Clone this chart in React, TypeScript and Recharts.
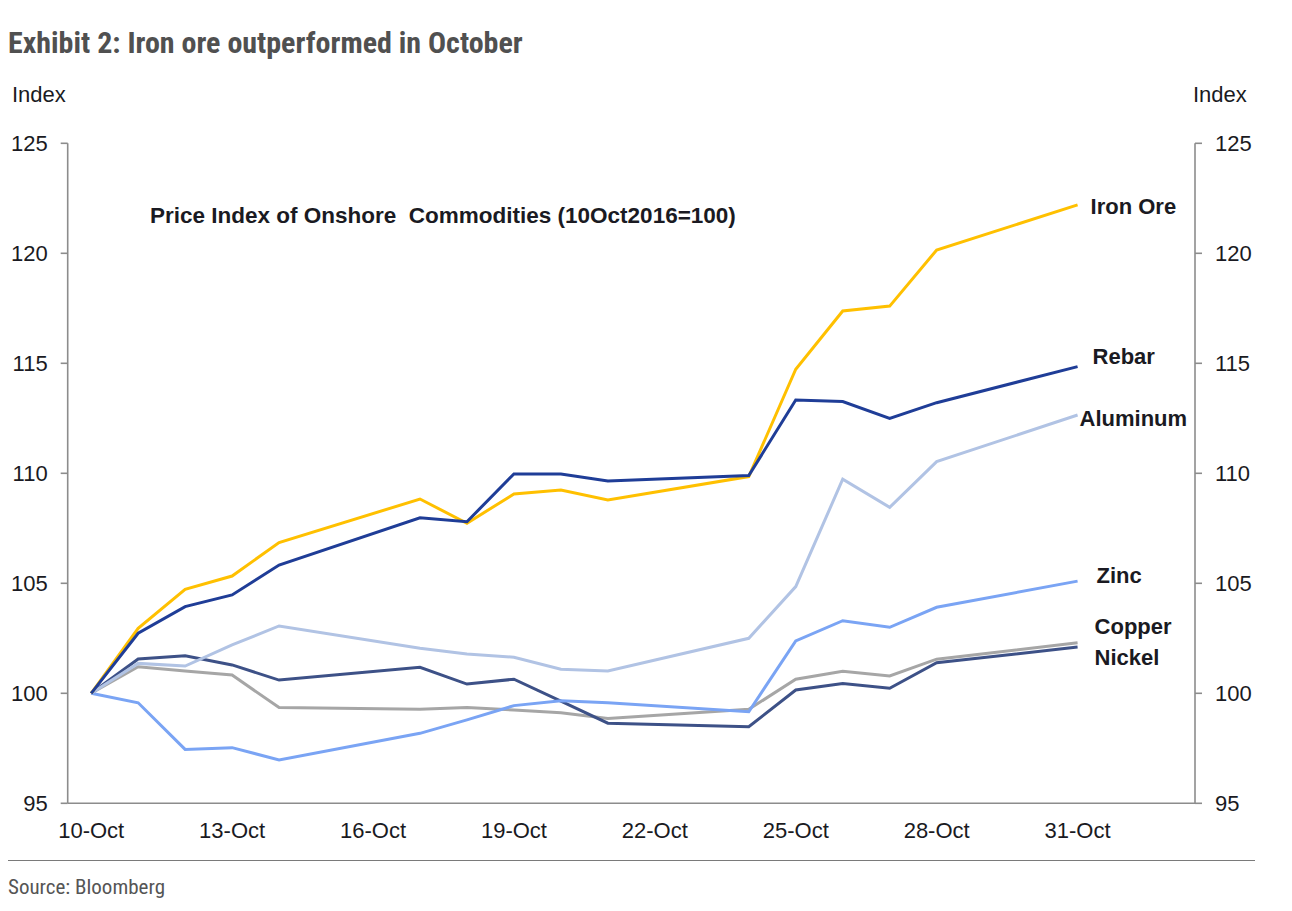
import React from 'react';
import { LineChart, Line, XAxis, YAxis, LabelList } from 'recharts';

// ---- data (October 2016, index 10-Oct = 100) ----
const days = [10, 11, 12, 13, 14, 17, 18, 19, 20, 21, 24, 25, 26, 27, 28, 31];
const ironOre = [100, 102.95, 104.73, 105.33, 106.85, 108.83, 107.73, 109.06, 109.24, 108.79, 109.85, 114.73, 117.38, 117.6, 120.15, 122.2];
const rebar = [100, 102.73, 103.94, 104.47, 105.83, 107.98, 107.8, 109.97, 109.97, 109.65, 109.9, 113.33, 113.26, 112.5, 113.21, 114.85];
const aluminum = [100, 101.36, 101.24, 102.2, 103.06, 102.05, 101.79, 101.64, 101.09, 101.01, 102.5, 104.85, 109.73, 108.45, 110.53, 112.65];
const zinc = [100, 99.57, 97.45, 97.53, 96.97, 98.18, 98.79, 99.44, 99.66, 99.57, 99.16, 102.38, 103.3, 103.0, 103.91, 105.1];
const copper = [100, 101.21, 101.01, 100.83, 99.35, 99.27, 99.36, 99.24, 99.12, 98.86, 99.27, 100.64, 101.0, 100.79, 101.55, 102.3];
const nickel = [100, 101.56, 101.71, 101.29, 100.6, 101.18, 100.42, 100.64, 99.64, 98.64, 98.48, 100.15, 100.45, 100.23, 101.39, 102.1];

const labelDays = [10, 13, 16, 19, 22, 25, 28, 31];
const boundaryTicks = [9.5, 12.5, 15.5, 18.5, 21.5, 24.5, 27.5, 30.5, 33.5];
const yTicks = [95, 100, 105, 110, 115, 120, 125];

const rows = days.map((d, i) => ({
  day: d,
  ironOre: ironOre[i],
  rebar: rebar[i],
  aluminum: aluminum[i],
  zinc: zinc[i],
  copper: copper[i],
  nickel: nickel[i],
}));

const SANS = '"Liberation Sans", Arial, Helvetica, sans-serif';
const NARROW = '"Liberation Sans Narrow", "Arial Narrow", "Roboto Condensed", "Liberation Sans", sans-serif';
const AXIS = '#8c8c8c';
const TXT = '#1a1a22';

const series = [
  { key: 'copper', name: 'Copper', color: '#a6a6a6', dx: 17, dy: -17 },
  { key: 'nickel', name: 'Nickel', color: '#3d5187', dx: 17, dy: 10 },
  { key: 'zinc', name: 'Zinc', color: '#7aa4f4', dx: 19, dy: -6 },
  { key: 'aluminum', name: 'Aluminum', color: '#b1c3e4', dx: 2, dy: 3 },
  { key: 'ironOre', name: 'Iron Ore', color: '#ffc000', dx: 13, dy: 1 },
  { key: 'rebar', name: 'Rebar', color: '#1f3d97', dx: 15, dy: -11 },
];

const endLabel = (name: string, dx: number, dy: number) => (props: any) => {
  const { x, y, index } = props;
  if (index !== days.length - 1) return null;
  return (
    <text
      x={x + dx}
      y={y + dy}
      dy="0.36em"
      textAnchor="start"
      fontFamily={SANS}
      fontSize={22}
      fontWeight="bold"
      fill={TXT}
    >
      {name}
    </text>
  );
};

const XLabelTick = (props: any) => {
  const { x, y, payload } = props;
  return (
    <text x={x} y={y} dy={27} textAnchor="middle" fontFamily={SANS} fontSize={22} fill={TXT}>
      {`${payload.value}-Oct`}
    </text>
  );
};

export default function App() {
  return (
    <div style={{ position: 'absolute', left: 0, top: 0, width: 1292, height: 911, background: '#fff', overflow: 'hidden' }}>
      <div
        style={{
          position: 'absolute', left: 8, top: 25, fontFamily: NARROW, fontWeight: 'bold',
          fontSize: 30, color: '#505050', whiteSpace: 'nowrap', lineHeight: '36px',
        }}
      >
        Exhibit 2: Iron ore outperformed in October
      </div>
      <div style={{ position: 'absolute', left: 12, top: 82, fontFamily: SANS, fontSize: 22, color: TXT, lineHeight: '26px' }}>
        Index
      </div>
      <div style={{ position: 'absolute', left: 1193, top: 82, fontFamily: SANS, fontSize: 22, color: TXT, lineHeight: '26px' }}>
        Index
      </div>
      <LineChart
        width={1292}
        height={911}
        data={rows}
        margin={{ top: 143.3, right: 27, bottom: 69.7, left: 7.7 }}
        style={{ position: 'absolute', left: 0, top: 0 }}
      >
        <XAxis
          xAxisId="b_labels"
          dataKey="day"
          type="number"
          domain={[9.5, 33.5]}
          ticks={labelDays}
          interval={0}
          axisLine={false}
          tickLine={false}
          tickSize={0}
          tickMargin={0}
          height={30}
          tick={<XLabelTick />}
        />
        <XAxis
          xAxisId="a_ticks"
          dataKey="day"
          type="number"
          domain={[9.5, 33.5]}
          ticks={boundaryTicks}
          interval={0}
          tick={false}
          tickSize={7}
          height={8}
          axisLine={{ stroke: AXIS, strokeWidth: 1.6 }}
          tickLine={{ stroke: AXIS, strokeWidth: 1.6 }}
        />
        <YAxis
          yAxisId="left"
          orientation="left"
          width={60}
          domain={[95, 125]}
          ticks={yTicks}
          interval={0}
          tickSize={7}
          tickMargin={13}
          axisLine={{ stroke: AXIS, strokeWidth: 1.6 }}
          tickLine={{ stroke: AXIS, strokeWidth: 1.6 }}
          tick={{ fontFamily: SANS, fontSize: 22, fill: TXT }}
        />
        <YAxis
          yAxisId="right"
          orientation="right"
          dataKey="rebar"
          width={70}
          domain={[95, 125]}
          ticks={yTicks}
          interval={0}
          tickSize={7}
          tickMargin={13}
          axisLine={{ stroke: AXIS, strokeWidth: 1.6 }}
          tickLine={{ stroke: AXIS, strokeWidth: 1.6 }}
          tick={{ fontFamily: SANS, fontSize: 22, fill: TXT }}
        />
        {series.map((s) => (
          <Line
            key={s.key}
            xAxisId="a_ticks"
            yAxisId="left"
            type="linear"
            dataKey={s.key}
            stroke={s.color}
            strokeWidth={3}
            dot={false}
            activeDot={false}
            isAnimationActive={false}
          >
            <LabelList dataKey={s.key} content={endLabel(s.name, s.dx, s.dy)} />
          </Line>
        ))}
      </LineChart>
      <div
        style={{
          position: 'absolute', left: 150, top: 203, fontFamily: SANS, fontWeight: 'bold',
          fontSize: 22.5, color: TXT, whiteSpace: 'pre', lineHeight: '26px',
        }}
      >
        {'Price Index of Onshore  Commodities (10Oct2016=100)'}
      </div>
      <div style={{ position: 'absolute', left: 8, top: 860, width: 1247, height: 0, borderTop: '1.6px solid #7a7a7a' }} />
      <div style={{ position: 'absolute', left: 8, top: 874, fontFamily: NARROW, fontSize: 21, color: '#555', lineHeight: '26px' }}>
        Source: Bloomberg
      </div>
    </div>
  );
}
